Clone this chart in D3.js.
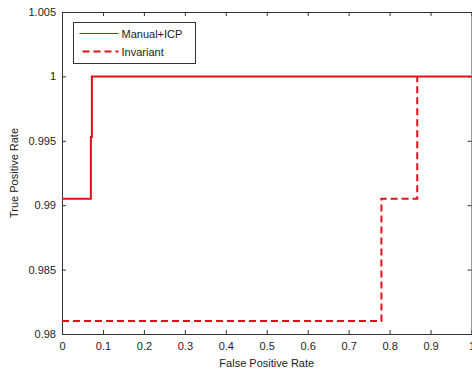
<!DOCTYPE html>
<html lang="en">
  <head>
    <meta charset="utf-8">
    <title></title>
    <script src="https://cdn.jsdelivr.net/npm/d3@7"></script>
    <style>
      body { margin: 0; background: #fff; }
      svg text { font-family: "Liberation Sans", Arial, sans-serif; font-size: 11px; fill: #222; }
    </style>
  </head>
  <body>
    <svg id="chart" width="472" height="374"></svg>
  <script>
  // data
  var seriesNames = ["Manual+ICP", "Invariant"]
  var manualX = [0, 0.0705, 0.0705, 0.073, 0.073, 1]
  var manualY = [0.9905, 0.9905, 0.9953, 0.9953, 1, 1]
  var invX = [0, 0.78, 0.78, 0.8675, 0.8675]
  var invY = [0.981, 0.981, 0.9905, 0.9905, 1]
  var xTicks = [0, 0.1, 0.2, 0.3, 0.4, 0.5, 0.6, 0.7, 0.8, 0.9, 1]
  var yTicks = [0.98, 0.985, 0.99, 0.995, 1, 1.005]

  var svg = d3.select("#chart"),
      margin = {top: 12, left: 62, bottom: 40, right: 0.5},
      width = +svg.attr("width"),
      height = +svg.attr("height")

  var x = d3.scaleLinear().domain([0, 1]).range([margin.left, width - margin.right])
  var y = d3.scaleLinear().domain([0.98, 1.005]).range([height - margin.bottom, margin.top])

  var fmt = d => String(+d.toFixed(3))

  // axes, inward ticks on all sides like matlab
  svg.append("g")
      .attr("transform", `translate(0,${y(0.98)})`)
      .call(d3.axisBottom(x).tickValues(xTicks).tickFormat(fmt).tickSizeInner(-4).tickSizeOuter(0).tickPadding(8))
  svg.append("g")
      .attr("transform", `translate(0,${y(1.005)})`)
      .call(d3.axisTop(x).tickValues(xTicks).tickFormat("").tickSizeInner(-4).tickSizeOuter(0))
  svg.append("g")
      .attr("transform", `translate(${x(0)},0)`)
      .call(d3.axisLeft(y).tickValues(yTicks).tickFormat(fmt).tickSizeInner(-4).tickSizeOuter(0).tickPadding(6))
  svg.append("g")
      .attr("transform", `translate(${x(1)},0)`)
      .call(d3.axisRight(y).tickValues(yTicks).tickFormat("").tickSizeInner(-4).tickSizeOuter(0))

  svg.selectAll(".domain").attr("stroke", "#333")
  svg.selectAll(".tick line").attr("stroke", "#333")
  svg.selectAll(".tick text").attr("fill", "#222").style("font-size", "11px")

  var line = d3.line().x(d => x(d[0])).y(d => y(d[1]))

  svg.append("path")
      .datum(manualX.map((v, i) => [v, manualY[i]]))
      .attr("d", line)
      .attr("fill", "none")
      .attr("stroke", "#e0101a")
      .attr("stroke-width", 2)

  svg.append("path")
      .datum(invX.map((v, i) => [v, invY[i]]))
      .attr("d", line)
      .attr("fill", "none")
      .attr("stroke", "#e0101a")
      .attr("stroke-width", 2)
      .attr("stroke-dasharray", "7,4")

  // axis labels
  svg.append("text")
      .attr("x", (x(0) + x(1)) / 2)
      .attr("y", 367)
      .attr("text-anchor", "middle")
      .text("False Positive Rate")

  svg.append("text")
      .attr("transform", "rotate(-90)")
      .attr("x", -(y(0.98) + y(1.005)) / 2)
      .attr("y", 18)
      .attr("text-anchor", "middle")
      .text("True Positive Rate")

  // legend
  var lg = svg.append("g").attr("transform", "translate(73.5,22.5)")
  lg.append("rect")
      .attr("width", 122)
      .attr("height", 41)
      .attr("fill", "#fff")
      .attr("stroke", "#333")

  lg.selectAll("line")
      .data(seriesNames)
      .enter().append("line")
      .attr("x1", (d, i) => i ? 9 : 6)
      .attr("x2", 45)
      .attr("y1", (d, i) => 11 + i * 18)
      .attr("y2", (d, i) => 11 + i * 18)
      .attr("stroke", "#e0101a")
      .attr("stroke-width", (d, i) => i ? 2 : 1)
      .attr("stroke-dasharray", (d, i) => i ? "7,4" : null)

  lg.selectAll("text")
      .data(seriesNames)
      .enter().append("text")
      .attr("x", 48)
      .attr("y", (d, i) => 15 + i * 18)
      .text(d => d)
  </script>
  </body>
</html>
